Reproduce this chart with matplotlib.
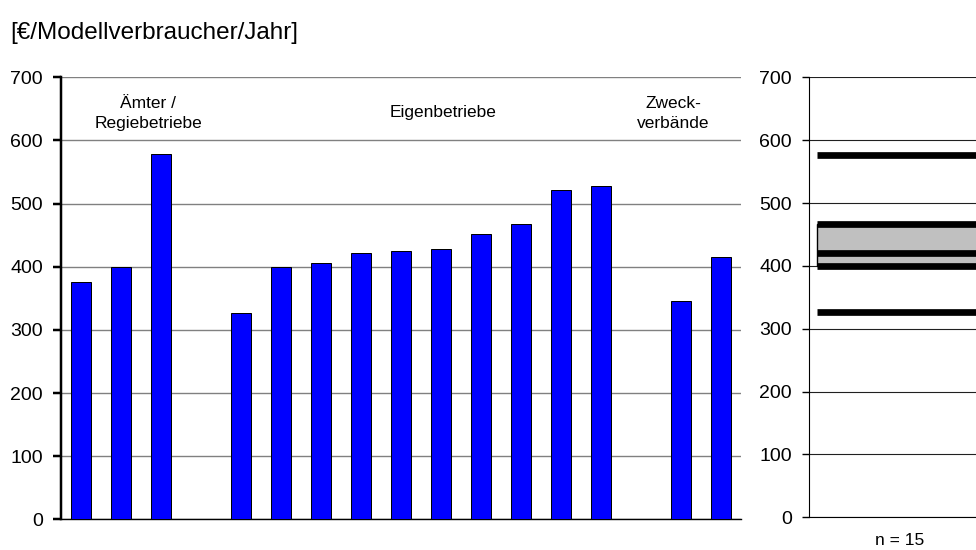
import matplotlib.pyplot as plt
from matplotlib.patches import Rectangle

plt.rcParams['font.family'] = ['Liberation Sans', 'DejaVu Sans']

# Kosten je Versorger, gruppiert nach Organisationsform
aemter = [376, 400, 578]
eigenbetriebe = [326, 400, 406, 422, 425, 428, 452, 467, 522, 528]
zweckverbaende = [345, 416]
group_labels = ['Ämter /\nRegiebetriebe', 'Eigenbetriebe', 'Zweck-\nverbände']

# Kennwerte der Verteilung (Min, Q1, Median, Q3, Max)
stat_min, stat_q1, stat_median, stat_q3, stat_max = 326, 400, 421, 467, 577
n_label = 'n = 15'

y_ticks = [0, 100, 200, 300, 400, 500, 600, 700]

PX = 0.72  # Pixel -> Punkt bei dpi 100

fig = plt.figure(figsize=(9.76, 5.5), dpi=100)

# linkes Diagramm: Einzelwerte
ax = fig.add_axes([61 / 976, 1 - 519.3 / 550, 680 / 976, 442 / 550])
groups = [aemter, eigenbetriebe, zweckverbaende]
pos = 0
for g in groups:
    xs = list(range(pos, pos + len(g)))
    ax.bar(xs, g, width=0.52, color='#0000FF', edgecolor='black', linewidth=1 * PX, zorder=3)
    pos += len(g) + 1

ax.set_xlim(-0.5, 16.5)
ax.set_ylim(0, 700)
ax.set_yticks(y_ticks)
ax.set_xticks([])
ax.yaxis.grid(True, color='#808080', linewidth=1, zorder=0)
for s in ['top', 'right']:
    ax.spines[s].set_visible(False)
ax.spines['left'].set_linewidth(2.5 * PX)
ax.spines['bottom'].set_linewidth(1)
ax.tick_params(axis='y', length=8 * PX, width=2.5 * PX, pad=10 * PX, labelsize=14)

ax.text(1.68, 643, group_labels[0], ha='center', va='center', fontsize=12.5, linespacing=1.45)
ax.text(9.05, 645, group_labels[1], ha='center', va='center', fontsize=12.5)
ax.text(14.8, 643, group_labels[2], ha='center', va='center', fontsize=12.5, linespacing=1.45)

fig.text(10 / 976, 1 - 33 / 550, '[€/Modellverbraucher/Jahr]', ha='left', va='center', fontsize=17.5)

# rechtes Diagramm: Verteilung
ax2 = fig.add_axes([809 / 976, 1 - 517.3 / 550, 182 / 976, 440 / 550])
ax2.set_xlim(0, 1)
ax2.set_ylim(0, 700)
ax2.set_yticks(y_ticks)
ax2.set_xticks([])
ax2.yaxis.grid(True, color='#202020', linewidth=0.8, zorder=0)
for s in ['top', 'right']:
    ax2.spines[s].set_visible(False)
ax2.tick_params(axis='y', length=7 * PX, width=1, pad=10 * PX, labelsize=14)
ax2.set_xlabel(n_label, fontsize=12.5, labelpad=11)

x0 = 0.044
ax2.add_patch(Rectangle((x0, stat_q1), 1 - x0, stat_q3 - stat_q1, facecolor='#C0C0C0',
                        edgecolor='black', linewidth=1, zorder=2))
ax2.hlines([stat_min, stat_q1, stat_median, stat_q3, stat_max], x0, 1,
           colors='black', linewidth=6.7 * PX, zorder=3)

fig.savefig('out.png', dpi=100)
